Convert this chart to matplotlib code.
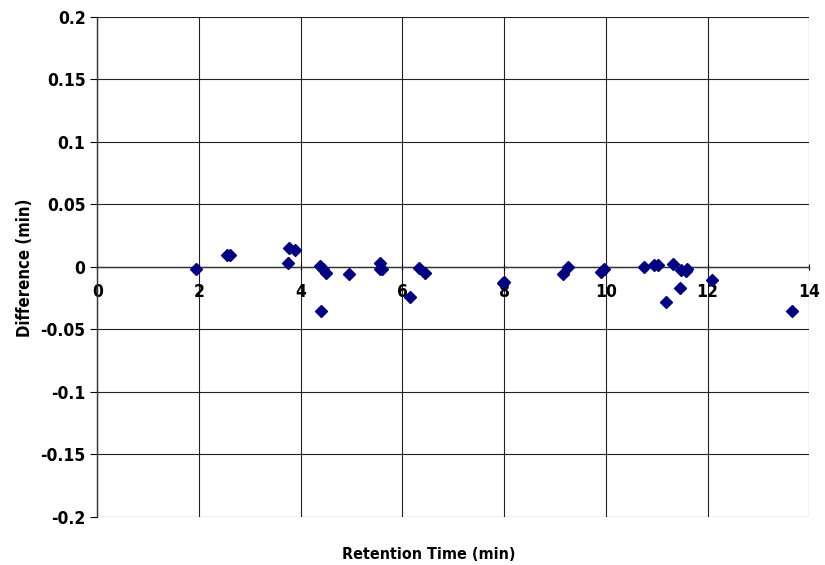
import numpy as np
import matplotlib
matplotlib.use("Agg")
import matplotlib.pyplot as plt

plt.rcParams['font.family'] = ['DejaVu Sans']
plt.rcParams['font.stretch'] = 'condensed'

# retention time (min) vs difference (min)
ret_time = [1.94, 2.55, 2.61, 3.74, 3.76, 3.89, 4.37, 4.40, 4.43, 4.50,
            4.94, 5.55, 5.56, 5.60, 6.15, 6.32, 6.45, 7.97, 8.00,
            9.15, 9.26, 9.90, 9.96, 10.74, 10.95, 11.02, 11.19, 11.31,
            11.45, 11.47, 11.58, 11.60, 12.08, 13.65]
difference = [-0.0013, 0.0094, 0.0094, 0.003, 0.0155, 0.0134, 0.0005, -0.0354, -0.002, -0.005,
              -0.0058, -0.0013, 0.0035, -0.0013, -0.024, -0.0008, -0.0045, -0.0125, -0.012,
              -0.0053, 0.0, -0.004, -0.0013, 0.0, 0.0016, 0.0016, -0.028, 0.002,
              -0.0165, -0.0026, -0.003, -0.0013, -0.0106, -0.0354]

x_ticks = [0, 2, 4, 6, 8, 10, 12, 14]
y_ticks = [-0.2, -0.15, -0.1, -0.05, 0, 0.05, 0.1, 0.15, 0.2]
y_labels = ['-0.2', '-0.15', '-0.1', '-0.05', '0', '0.05', '0.1', '0.15', '0.2']

fig = plt.figure(figsize=(8.25, 5.65), dpi=100)
ax = fig.add_axes([0.118, 0.085, 0.863, 0.885])

ax.plot(ret_time, difference, linestyle='none', marker='D', markersize=6.2,
        color='#000080', zorder=5, clip_on=False)

ax.set_xlim(0, 14)
ax.set_ylim(-0.2, 0.2)
ax.set_xticks(x_ticks)
ax.set_yticks(y_ticks)
ax.set_yticklabels(y_labels)

ax.grid(True, color='#222222', linewidth=0.8)
ax.set_axisbelow(True)

ax.spines['bottom'].set_position(('data', 0))
ax.spines['top'].set_visible(False)
ax.spines['right'].set_visible(False)
for s in ['left', 'bottom']:
    ax.spines[s].set_color('#333333')
    ax.spines[s].set_linewidth(1.0)

ax.tick_params(axis='x', direction='inout', length=5, pad=9, labelsize=12.5)
ax.tick_params(axis='y', direction='out', length=5, labelsize=12.5)
for lab in ax.get_xticklabels() + ax.get_yticklabels():
    lab.set_fontweight('bold')

fig.text(0.52, 0.018, 'Retention Time (min)', ha='center', va='center',
         fontsize=11.5, fontweight='bold')
fig.text(0.03, 0.526, 'Difference (min)', ha='center', va='center',
         rotation=90, fontsize=12, fontweight='bold')

fig.savefig('out.png', dpi=100)
